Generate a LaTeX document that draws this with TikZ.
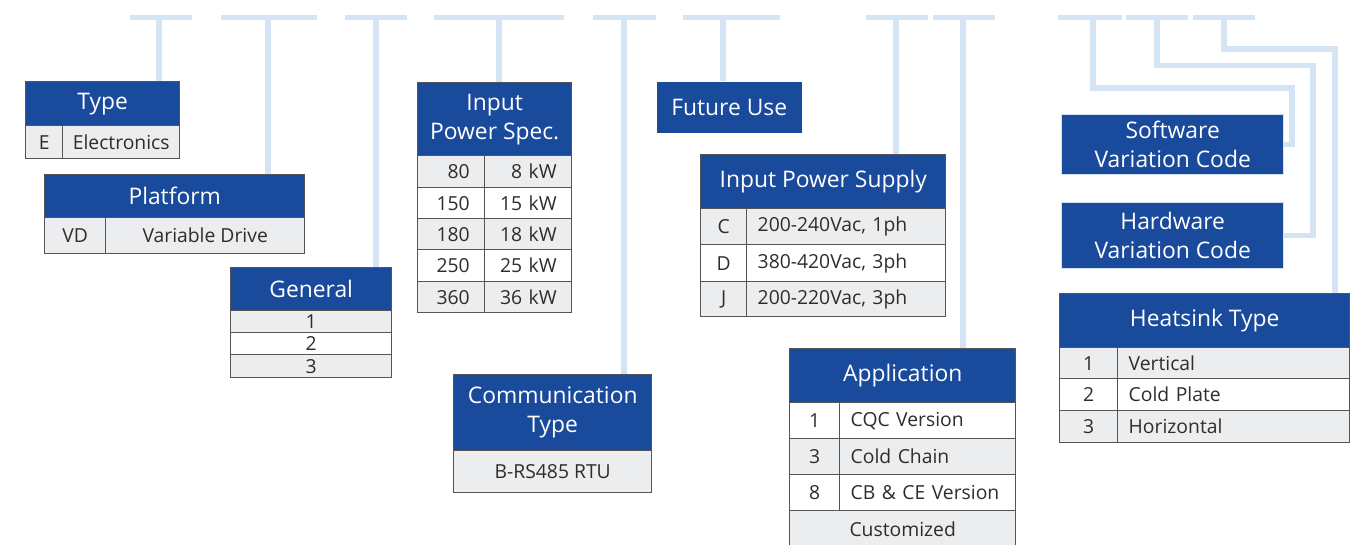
\documentclass[tikz,border=0pt]{standalone}
\usepackage{fontspec}
\setmainfont{Open Sans}

\definecolor{hdblue}{RGB}{26,74,156}
\definecolor{rowgray}{RGB}{236,237,239}
\definecolor{lnblue}{RGB}{212,228,245}
\definecolor{edgegray}{RGB}{85,85,85}
\definecolor{txtgray}{RGB}{45,45,45}

\tikzset{
  hd/.style={draw=edgegray, line width=0.8pt, fill=hdblue, text=white, align=center,
    font=\fontsize{13}{16.5}\selectfont, anchor=north west, inner sep=0pt},
  cl/.style={draw=edgegray, line width=0.8pt, fill=rowgray, text=txtgray,
    font=\fontsize{11}{13}\selectfont, anchor=north west, inner sep=0pt},
  wt/.style={fill=white},
  wd/.style={minimum width=#1*0.02cm},
  ht/.style={minimum height=#1*0.02cm},
  lft/.style={text width=#1, align=left, inner xsep=0.22cm},
  rgt/.style={text width=#1, align=right, inner xsep=0.3cm},
  link/.style={draw=lnblue, line width=2.9pt, line join=miter}
}

\begin{document}
\begin{tikzpicture}[x=0.02cm, y=-0.02cm]
    \useasboundingbox (0,0) rectangle (1361,544);

    % Top bars
    \foreach \a/\b in {130/192, 221/317, 345/407, 434/564, 593/656,
                       683/780, 866/928, 933/995, 1058/1122, 1126/1188, 1193/1255}
        \draw[link] (\a,17.5) -- (\b,17.5);
    \coordinate (t1) at (159,17.5);
    \coordinate (t2) at (268,17.5);
    \coordinate (t3) at (376,17.5);
    \coordinate (t4) at (499,17.5);
    \coordinate (t5) at (624,17.5);
    \coordinate (t6) at (723,17.5);
    \coordinate (t7) at (896,17.5);
    \coordinate (t8) at (963,17.5);
    \coordinate (t9) at (1093,17.5);
    \coordinate (t10) at (1157,17.5);
    \coordinate (t11) at (1224,17.5);

    % Type
    \node[hd, wd=154, ht=44] (type) at (25,81) {Type};
    \node[cl, wd=37, ht=33] (typeE) at (25,125) {E};
    \node[cl, wd=117, ht=33] (typeEtxt) at (62,125) {Electronics};

    % Platform
    \node[hd, wd=260, ht=43] (plat) at (44,174) {Platform};
    \node[cl, wd=61, ht=36] (platVD) at (44,217) {VD};
    \node[cl, wd=199, ht=36] (platVDtxt) at (105,217) {Variable Drive};

    % General
    \node[hd, wd=161, ht=43] (gen) at (230,267) {General};
    \node[cl, wd=161, ht=22] (gen1) at (230,310) {1};
    \node[cl, wd=161, ht=22, wt] (gen2) at (230,332) {2};
    \node[cl, wd=161, ht=23] (gen3) at (230,354) {3};

    % Input power spec.
    \node[hd, wd=154, ht=73] (ips) at (417,82) {Input\\Power Spec.};
    \node[cl, rgt=0.74cm, ht=32] (ips1a) at (417,155) {80};
    \node[cl, rgt=1.14cm, ht=32] (ips1b) at (484,155) {8 kW};
    \node[cl, rgt=0.74cm, ht=31, wt] (ips2a) at (417,187) {150};
    \node[cl, rgt=1.14cm, ht=31, wt] (ips2b) at (484,187) {15 kW};
    \node[cl, rgt=0.74cm, ht=31] (ips3a) at (417,218) {180};
    \node[cl, rgt=1.14cm, ht=31] (ips3b) at (484,218) {18 kW};
    \node[cl, rgt=0.74cm, ht=32, wt] (ips4a) at (417,249) {250};
    \node[cl, rgt=1.14cm, ht=32, wt] (ips4b) at (484,249) {25 kW};
    \node[cl, rgt=0.74cm, ht=31] (ips5a) at (417,281) {360};
    \node[cl, rgt=1.14cm, ht=31] (ips5b) at (484,281) {36 kW};

    % Communication type
    \node[hd, wd=198, ht=76] (comm) at (453,374) {Communication\\Type};
    \node[cl, wd=198, ht=42] (comm1) at (453,450) {B-RS485 RTU};

    % Future use
    \node[hd, draw=none, wd=145, ht=51] (fut) at (656,81) {Future Use};

    % Input power supply
    \node[hd, wd=245, ht=54] (ipsup) at (700,154) {Input Power Supply};
    \node[cl, wd=46, ht=36] (ipsupC) at (700,208) {C};
    \node[cl, lft=3.54cm, ht=36] (ipsupCtxt) at (746,208) {200-240Vac, 1ph};
    \node[cl, wd=46, ht=37, wt] (ipsupD) at (700,244) {D};
    \node[cl, lft=3.54cm, ht=37, wt] (ipsupDtxt) at (746,244) {380-420Vac, 3ph};
    \node[cl, wd=46, ht=35] (ipsupJ) at (700,281) {J};
    \node[cl, lft=3.54cm, ht=35] (ipsupJtxt) at (746,281) {200-220Vac, 3ph};

    % Application
    \node[hd, wd=226, ht=54] (app) at (789,348) {Application};
    \node[cl, wd=50, ht=36, wt] (app1) at (789,402) {1};
    \node[cl, lft=3.08cm, ht=36, wt] (app1txt) at (839,402) {CQC Version};
    \node[cl, wd=50, ht=36] (app3) at (789,438) {3};
    \node[cl, lft=3.08cm, ht=36] (app3txt) at (839,438) {Cold Chain};
    \node[cl, wd=50, ht=36, wt] (app8) at (789,474) {8};
    \node[cl, lft=3.08cm, ht=36, wt] (app8txt) at (839,474) {CB \& CE Version};
    \node[cl, wd=226, ht=37] (appcust) at (789,510) {Customized};

    % Software / hardware variation codes
    \node[hd, draw=lnblue, wd=222, ht=60] (sw) at (1061,114) {Software\\Variation Code};
    \node[hd, draw=lnblue, wd=222, ht=66] (hw) at (1061,202) {Hardware\\Variation Code};

    % Heatsink type
    \node[hd, wd=290, ht=54] (heat) at (1059,293) {Heatsink Type};
    \node[cl, wd=58, ht=31] (heat1) at (1059,347) {1};
    \node[cl, lft=4.2cm, ht=31] (heat1txt) at (1117,347) {Vertical};
    \node[cl, wd=58, ht=32, wt] (heat2) at (1059,378) {2};
    \node[cl, lft=4.2cm, ht=32, wt] (heat2txt) at (1117,378) {Cold Plate};
    \node[cl, wd=58, ht=32] (heat3) at (1059,410) {3};
    \node[cl, lft=4.2cm, ht=32] (heat3txt) at (1117,410) {Horizontal};

    % Drops from the bars
    \draw[link] (t1) -- (t1 |- type.north);
    \draw[link] (t2) -- (t2 |- plat.north);
    \draw[link] (t3) -- (t3 |- gen.north);
    \draw[link] (t4) -- (t4 |- ips.north);
    \draw[link] (t5) -- (t5 |- comm.north);
    \draw[link] (t6) -- (t6 |- fut.north);
    \draw[link] (t7) -- (t7 |- ipsup.north);
    \draw[link] (t8) -- (t8 |- app.north);
    \draw[link] (t9) |- (1292,88) |- (sw.east);
    \draw[link] (t10) |- (1313,65.5) |- (hw.east);
    \draw[link] (t11) |- (1335,49) coordinate (k11) -- (k11 |- heat.north);
\end{tikzpicture}
\end{document}
